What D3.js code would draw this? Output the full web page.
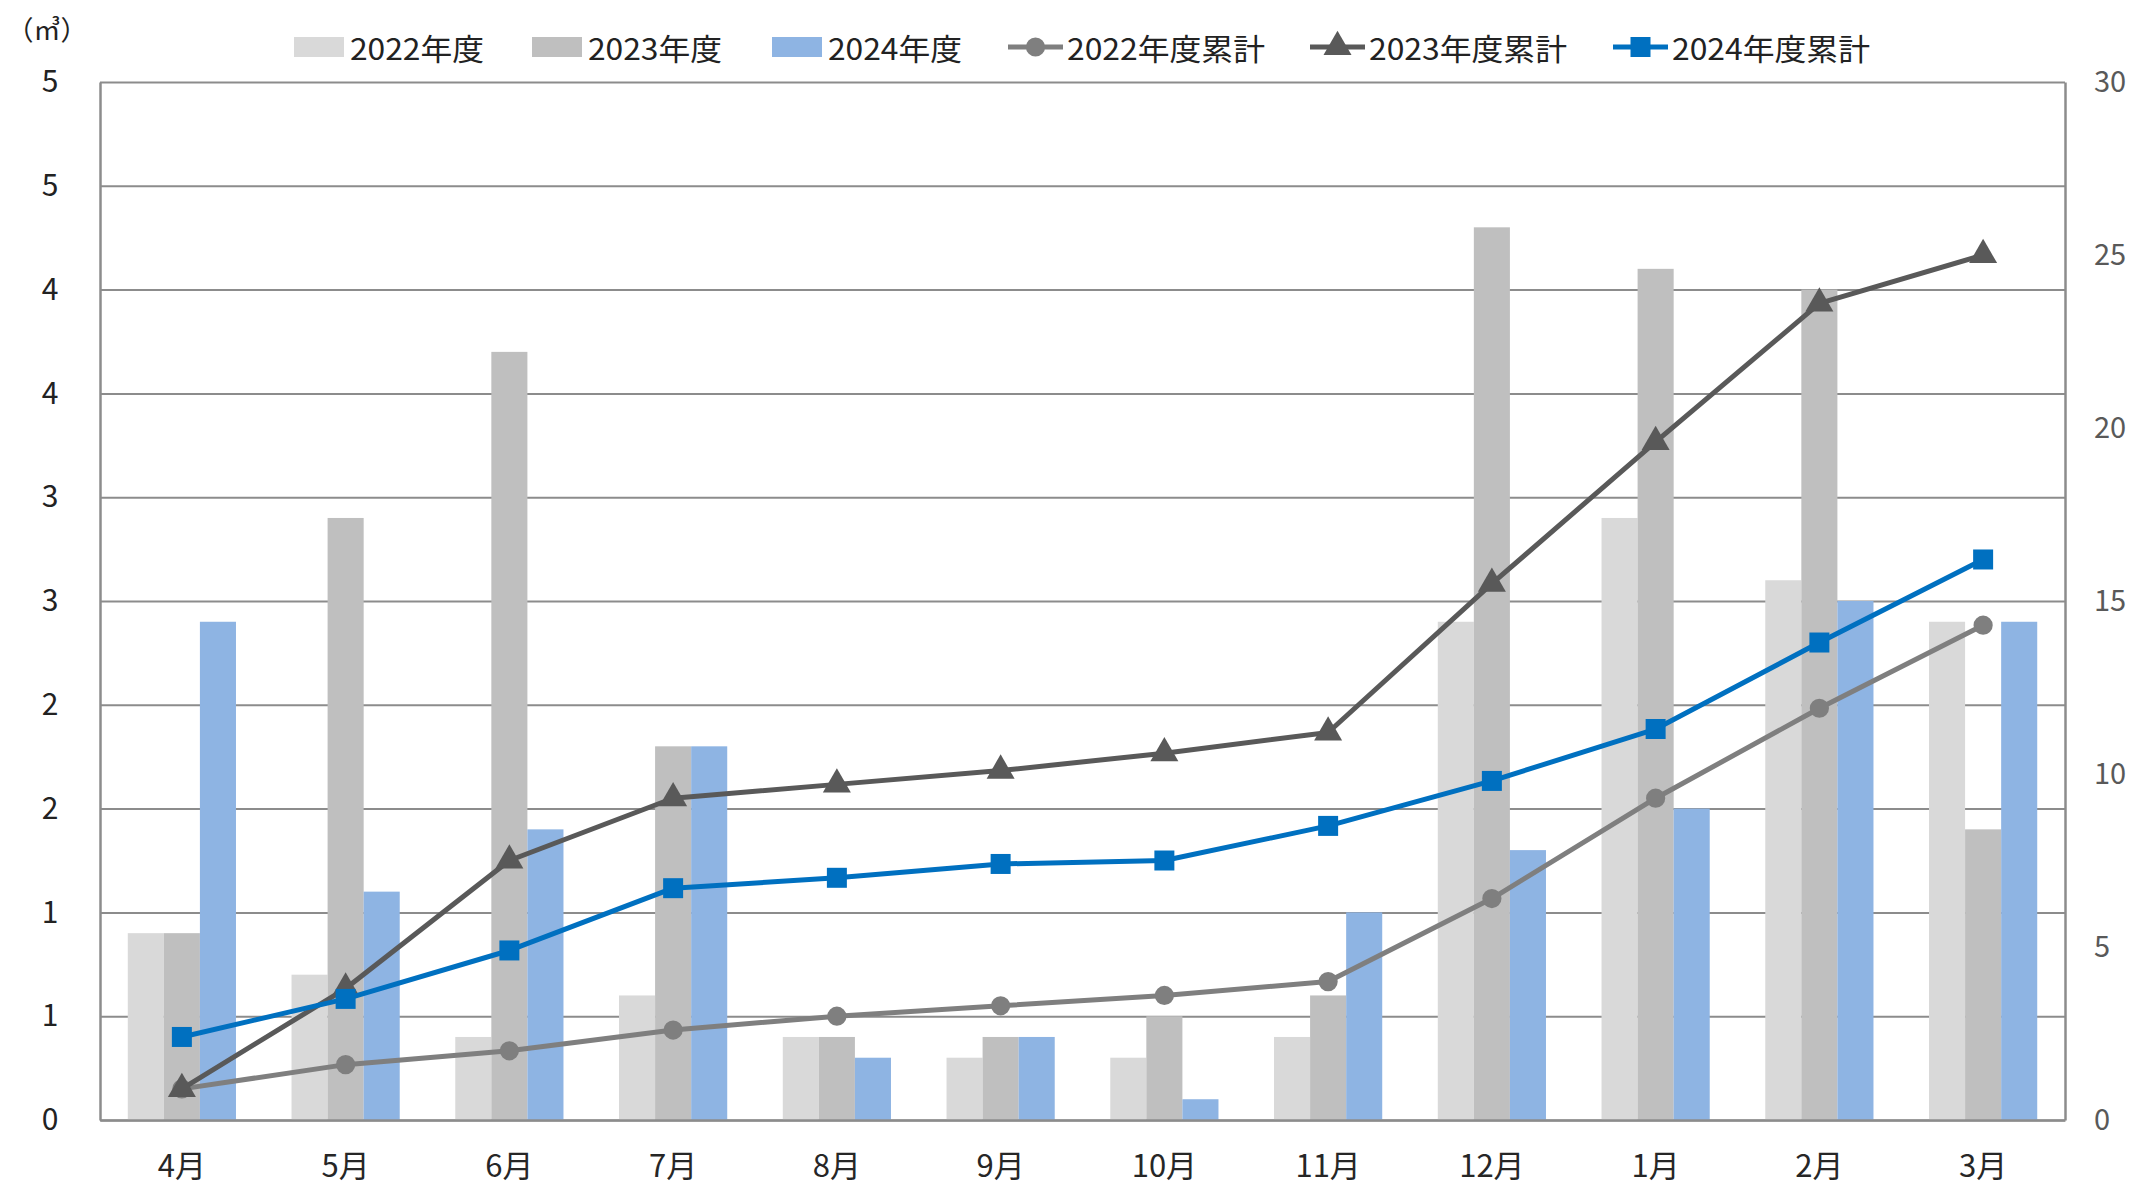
<!DOCTYPE html>
<html>
<head>
<meta charset="utf-8">
<script src="https://cdn.jsdelivr.net/npm/d3@7"></script>
<style>
  body { margin: 0; background: #fff; }
  text { font-family: "Noto Sans CJK JP", "Noto Sans", sans-serif; }
</style>
</head>
<body>
<div class="combo-chart"></div>
<script>
// 月份
const months = ['4月','5月','6月','7月','8月','9月','10月','11月','12月','1月','2月','3月'];
// 各年度 月量 (左軸)
const v2022 = [0.9,0.7,0.4,0.6,0.4,0.3,0.3,0.4,2.4,2.9,2.6,2.4];
const v2023 = [0.9,2.9,3.7,1.8,0.4,0.4,0.5,0.6,4.3,4.1,4.0,1.4];
const v2024 = [2.4,1.1,1.4,1.8,0.3,0.4,0.1,1.0,1.3,1.5,2.5,2.4];
// 累計 (右軸)
const cum2022 = [0.9,1.6,2.0,2.6,3.0,3.3,3.6,4.0,6.4,9.3,11.9,14.3];
const cum2023 = [0.9,3.8,7.5,9.3,9.7,10.1,10.6,11.2,15.5,19.6,23.6,25.0];
const cum2024 = [2.4,3.5,4.9,6.7,7.0,7.4,7.5,8.5,9.8,11.3,13.8,16.2];
// 刻度
const leftTicks = [0,0.5,1,1.5,2,2.5,3,3.5,4,4.5,5];
const leftTickLabels = ['0','1','1','2','2','3','3','4','4','5','5'];
const rightTicks = [0,5,10,15,20,25,30];
const unitLabel = '（㎥）';

const barSeries = [
  {name:'2022年度', color:'#d9d9d9', values:v2022},
  {name:'2023年度', color:'#bfbfbf', values:v2023},
  {name:'2024年度', color:'#8eb4e3', values:v2024}
];
const lineSeries = [
  {name:'2022年度累計', color:'#7f7f7f', marker:'circle', values:cum2022},
  {name:'2023年度累計', color:'#595959', marker:'triangle', values:cum2023},
  {name:'2024年度累計', color:'#0070c0', marker:'square', values:cum2024}
];

setupCanvas();

// 標記形狀
function markerSymbol(m){
  if(m==='circle') return d3.symbol().type(d3.symbolCircle).size(290);
  if(m==='triangle') return d3.symbol().type(d3.symbolTriangle).size(340);
  return d3.symbol().type(d3.symbolSquare).size(400);
}

function setupCanvas(){
  const svg_width = 2151;
  const svg_height = 1188;
  const chart_margin = {top:82,right:86,bottom:68,left:100};
  const chart_width = svg_width - (chart_margin.left + chart_margin.right);
  const chart_height = svg_height - (chart_margin.top + chart_margin.bottom);

  const svg = d3.select('.combo-chart').append('svg')
      .attr('width', svg_width).attr('height', svg_height);
  const g = svg.append('g')
      .attr('transform', `translate(${chart_margin.left},${chart_margin.top})`);

  // scales
  const xScale = d3.scaleBand().domain(months).range([0, chart_width]).paddingInner(0).paddingOuter(0);
  const xInner = d3.scaleBand().domain(barSeries.map(d=>d.name))
      .range([0, xScale.bandwidth()]).paddingInner(0).paddingOuter(0.77);
  const yLeft = d3.scaleLinear().domain([0,5]).range([chart_height,0]);
  const yRight = d3.scaleLinear().domain([0,30]).range([chart_height,0]);

  // grid lines
  const yGrid = d3.axisLeft(yLeft).tickValues(leftTicks).tickSize(-chart_width).tickFormat('');
  g.append('g').attr('class','grid').call(yGrid)
    .call(s=>s.select('.domain').remove())
    .selectAll('line').attr('stroke','#8c8c8c').attr('stroke-width',2);

  // bars
  const barG = g.append('g').attr('class','bars');
  barSeries.forEach(s=>{
    barG.append('g').selectAll('rect').data(s.values).enter()
      .append('rect')
      .attr('x',(d,i)=>xScale(months[i]) + xInner(s.name))
      .attr('y',d=>yLeft(d))
      .attr('width', xInner.bandwidth())
      .attr('height', d=>chart_height - yLeft(d))
      .attr('fill', s.color);
  });

  // left axis
  const yAxisL = d3.axisLeft(yLeft).tickValues(leftTicks).tickSize(0)
      .tickFormat((d,i)=>leftTickLabels[i]);
  g.append('g').attr('class','y axis').call(yAxisL)
    .call(s=>s.select('.domain').attr('stroke','#8c8c8c').attr('stroke-width',2.5))
    .selectAll('text').attr('x',-50).attr('text-anchor','middle')
    .style('font-size','30px').attr('fill','#222');

  // right axis
  const yAxisR = d3.axisRight(yRight).tickValues(rightTicks).tickSize(0);
  g.append('g').attr('class','y2 axis').attr('transform',`translate(${chart_width},0)`).call(yAxisR)
    .call(s=>s.select('.domain').attr('stroke','#8c8c8c').attr('stroke-width',2.5))
    .selectAll('text').attr('x',29).style('font-size','29px').attr('fill','#595959');

  // x axis
  const xAxis = d3.axisBottom(xScale).tickSize(0);
  g.append('g').attr('class','x axis').attr('transform',`translate(0,${chart_height})`).call(xAxis)
    .call(s=>s.select('.domain').attr('stroke','#8c8c8c').attr('stroke-width',2.5))
    .selectAll('text').attr('y',35).style('font-size','31px').attr('fill','#262626');

  // lines
  const lineG = g.append('g').attr('class','lines');
  lineSeries.forEach(s=>{
    const lineGen = d3.line()
      .x((d,i)=>xScale(months[i]) + xScale.bandwidth()/2)
      .y(d=>yRight(d));
    lineG.append('path').attr('d', lineGen(s.values))
      .attr('fill','none').attr('stroke', s.color).attr('stroke-width',5)
      .attr('stroke-linejoin','round');
    lineG.append('g').selectAll('path').data(s.values).enter()
      .append('path')
      .attr('d', markerSymbol(s.marker))
      .attr('transform',(d,i)=>`translate(${xScale(months[i]) + xScale.bandwidth()/2},${yRight(d)})`)
      .attr('fill', s.color);
  });

  // unit label
  svg.append('text').attr('x',47).attr('y',28).attr('text-anchor','middle')
    .attr('dominant-baseline','central')
    .style('font-size','27px').attr('fill','#222').text(unitLabel);

  // legend
  const legend = svg.append('g').attr('class','legend').attr('transform','translate(0,47)');
  const barLegX = [294, 532, 772];
  barSeries.forEach((s,i)=>{
    const lg = legend.append('g').attr('transform',`translate(${barLegX[i]},0)`);
    lg.append('rect').attr('x',0).attr('y',-10).attr('width',50).attr('height',20).attr('fill',s.color);
    lg.append('text').attr('x',56).attr('y',0).attr('dominant-baseline','central')
      .style('font-size','30px').attr('fill','#222')
      .attr('textLength',134).attr('lengthAdjust','spacingAndGlyphs').text(s.name);
  });
  const lineLegX = [1008, 1310, 1613];
  lineSeries.forEach((s,i)=>{
    const lg = legend.append('g').attr('transform',`translate(${lineLegX[i]},0)`);
    lg.append('line').attr('x1',0).attr('x2',55).attr('y1',0).attr('y2',0)
      .attr('stroke',s.color).attr('stroke-width',5);
    lg.append('path').attr('d', markerSymbol(s.marker))
      .attr('transform','translate(27.5,0)').attr('fill',s.color);
    lg.append('text').attr('x',59).attr('y',0).attr('dominant-baseline','central')
      .style('font-size','30px').attr('fill','#222')
      .attr('textLength',198).attr('lengthAdjust','spacingAndGlyphs').text(s.name);
  });
}
</script>
</body>
</html>
